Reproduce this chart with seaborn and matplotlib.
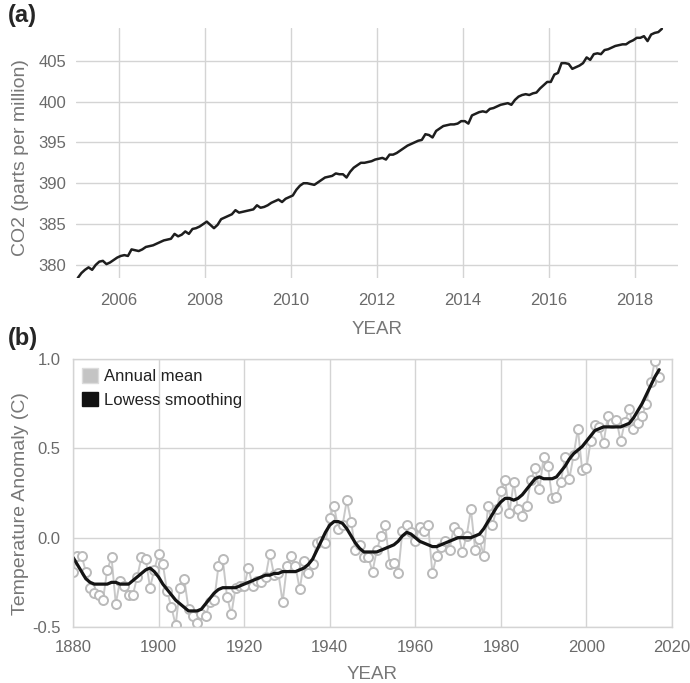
import matplotlib
matplotlib.use("Agg")
import matplotlib.pyplot as plt
from matplotlib.patches import Patch
import numpy as np
import pandas as pd
import seaborn as sns

# ---- Monthly CO2 (ppm), Jan 2005 .. Aug 2018 ----
co2_2005 = [378.4, 379.0, 379.4, 379.7, 379.4, 380.0, 380.4, 380.5, 380.1, 380.3, 380.6, 380.9]
co2_2006 = [381.1, 381.2, 381.1, 381.9, 381.8, 381.7, 381.9, 382.2, 382.3, 382.4, 382.6, 382.8]
co2_2007 = [383.0, 383.1, 383.2, 383.8, 383.5, 383.7, 384.1, 383.8, 384.4, 384.5, 384.7, 385.0]
co2_2008 = [385.3, 384.9, 384.5, 384.9, 385.6, 385.8, 386.0, 386.2, 386.7, 386.4, 386.5, 386.6]
co2_2009 = [386.7, 386.8, 387.3, 387.0, 387.1, 387.3, 387.6, 387.8, 388.0, 387.7, 388.1, 388.3]
co2_2010 = [388.5, 389.2, 389.7, 390.0, 390.0, 389.9, 389.8, 390.1, 390.4, 390.7, 390.8, 390.9]
co2_2011 = [391.2, 391.1, 391.1, 390.7, 391.4, 391.9, 392.2, 392.5, 392.5, 392.6, 392.7, 392.9]
co2_2012 = [393.0, 393.1, 392.9, 393.5, 393.5, 393.7, 394.0, 394.3, 394.6, 394.8, 395.0, 395.2]
co2_2013 = [395.3, 396.0, 395.9, 395.6, 396.4, 396.7, 397.0, 397.1, 397.2, 397.2, 397.3, 397.6]
co2_2014 = [397.6, 397.3, 398.3, 398.5, 398.7, 398.8, 398.7, 399.1, 399.2, 399.4, 399.6, 399.7]
co2_2015 = [399.8, 399.6, 400.2, 400.6, 400.8, 400.9, 400.8, 401.0, 401.1, 401.6, 402.0, 402.4]
co2_2016 = [402.4, 403.3, 403.5, 404.7, 404.7, 404.6, 404.0, 404.2, 404.4, 404.7, 405.4, 405.1]
co2_2017 = [405.8, 405.9, 405.8, 406.3, 406.4, 406.6, 406.8, 406.9, 407.0, 407.0, 407.3, 407.5]
co2_2018 = [407.8, 407.8, 408.0, 407.4, 408.2, 408.4, 408.5, 408.9]

co2_values = (co2_2005 + co2_2006 + co2_2007 + co2_2008 + co2_2009 + co2_2010 + co2_2011
              + co2_2012 + co2_2013 + co2_2014 + co2_2015 + co2_2016 + co2_2017 + co2_2018)
co2_start_year = 2005
co2_xticks = [2006, 2008, 2010, 2012, 2014, 2016, 2018]
co2_yticks = [380, 385, 390, 395, 400, 405]

# ---- Global temperature anomaly (C), 1880 .. 2017 ----
temp_years = list(range(1880, 2018))
annual_mean = [
    -0.19, -0.10, -0.10, -0.19, -0.28, -0.31, -0.32, -0.35, -0.18, -0.11,
    -0.37, -0.24, -0.27, -0.32, -0.32, -0.22, -0.11, -0.12, -0.28, -0.18,
    -0.09, -0.15, -0.30, -0.39, -0.49, -0.28, -0.23, -0.40, -0.44, -0.48,
    -0.43, -0.44, -0.36, -0.35, -0.16, -0.12, -0.33, -0.43, -0.28, -0.27,
    -0.27, -0.17, -0.27, -0.24, -0.25, -0.22, -0.09, -0.21, -0.20, -0.36,
    -0.16, -0.10, -0.16, -0.29, -0.13, -0.20, -0.15, -0.03, -0.02, -0.03,
    0.11, 0.18, 0.05, 0.07, 0.21, 0.09, -0.07, -0.04, -0.11, -0.11,
    -0.19, -0.07, 0.01, 0.07, -0.15, -0.14, -0.20, 0.04, 0.07, 0.03,
    -0.02, 0.06, 0.04, 0.07, -0.20, -0.10, -0.05, -0.02, -0.07, 0.06,
    0.03, -0.08, 0.01, 0.16, -0.07, -0.01, -0.10, 0.18, 0.07, 0.16,
    0.26, 0.32, 0.14, 0.31, 0.16, 0.12, 0.18, 0.32, 0.39, 0.27,
    0.45, 0.40, 0.22, 0.23, 0.31, 0.45, 0.33, 0.46, 0.61, 0.38,
    0.39, 0.54, 0.63, 0.62, 0.53, 0.68, 0.64, 0.66, 0.54, 0.65,
    0.72, 0.61, 0.64, 0.68, 0.75, 0.87, 0.99, 0.90,
]
lowess_5yr = [
    -0.11, -0.15, -0.19, -0.23, -0.25, -0.26, -0.26, -0.26, -0.26, -0.25,
    -0.25, -0.26, -0.26, -0.26, -0.24, -0.22, -0.20, -0.18, -0.17, -0.19,
    -0.22, -0.26, -0.29, -0.32, -0.35, -0.37, -0.39, -0.41, -0.41, -0.41,
    -0.40, -0.37, -0.34, -0.31, -0.29, -0.28, -0.28, -0.28, -0.28, -0.27,
    -0.26, -0.25, -0.24, -0.23, -0.22, -0.21, -0.21, -0.20, -0.20, -0.19,
    -0.19, -0.19, -0.19, -0.18, -0.17, -0.15, -0.12, -0.07, -0.02, 0.03,
    0.07, 0.09, 0.09, 0.08, 0.05, 0.01, -0.03, -0.06, -0.08, -0.08,
    -0.08, -0.08, -0.07, -0.06, -0.05, -0.04, -0.02, 0.01, 0.03, 0.02,
    0.00, -0.02, -0.03, -0.04, -0.05, -0.05, -0.04, -0.03, -0.02, -0.01,
    0.00, 0.00, 0.00, 0.00, 0.01, 0.02, 0.05, 0.09, 0.13, 0.17,
    0.20, 0.22, 0.22, 0.21, 0.22, 0.24, 0.27, 0.30, 0.33, 0.34,
    0.33, 0.33, 0.33, 0.34, 0.37, 0.40, 0.44, 0.47, 0.49, 0.51,
    0.54, 0.57, 0.60, 0.61, 0.62, 0.62, 0.62, 0.62, 0.62, 0.63,
    0.64, 0.67, 0.71, 0.75, 0.80, 0.85, 0.90, 0.94,
]
temp_xticks = [1880, 1900, 1920, 1940, 1960, 1980, 2000, 2020]
temp_yticks = [-0.5, 0.0, 0.5, 1.0]

# ---- tables ----
co2_df = pd.DataFrame({
    "year": [co2_start_year + (i + 0.5) / 12 for i in range(len(co2_values))],
    "co2": co2_values,
})
temp_df = pd.DataFrame({"year": temp_years, "annual": annual_mean, "lowess": lowess_5yr})

# ---- style ----
sns.set_style("white")
plt.rcParams["font.family"] = ["Liberation Sans", "DejaVu Sans"]
TICK_GRAY = "#6a6a6a"
LABEL_GRAY = "#777777"
GRID_GRAY = "#d4d4d4"

fig = plt.figure(figsize=(6.9, 6.83), dpi=100)

# ---------- (a) CO2 ----------
ax1 = fig.add_axes([76 / 690, 1 - 278 / 683, 602 / 690, 250 / 683])
sns.lineplot(data=co2_df, x="year", y="co2", ax=ax1, color="#1e1e1e", linewidth=1.8)
ax1.set_xlim(2005, 2019)
ax1.set_ylim(378.4, 409.0)
ax1.set_xticks(co2_xticks)
ax1.set_yticks(co2_yticks)
ax1.grid(True, color=GRID_GRAY, linewidth=1.0)
ax1.set_axisbelow(True)
for s in ax1.spines.values():
    s.set_visible(False)
ax1.tick_params(axis="both", length=0, labelsize=12, labelcolor=TICK_GRAY)
ax1.tick_params(axis="x", pad=11)
ax1.tick_params(axis="y", pad=7)
ax1.set_xlabel("YEAR", fontsize=13.5, color=LABEL_GRAY, labelpad=9)
ax1.set_ylabel("CO2 (parts per million)", fontsize=14, color=LABEL_GRAY)
ax1.yaxis.set_label_coords(-0.078, 0.48)

# ---------- (b) temperature ----------
ax2 = fig.add_axes([73 / 690, 1 - 627 / 683, 599 / 690, 268 / 683])
sns.lineplot(data=temp_df, x="year", y="annual", ax=ax2, color="#c8c8c8", linewidth=1.4,
             marker="o", markersize=6.5, markerfacecolor="white",
             markeredgecolor="#bababa", markeredgewidth=1.4)
sns.lineplot(data=temp_df, x="year", y="lowess", ax=ax2, color="#141414", linewidth=2.3)
ax2.set_xlim(1880, 2020)
ax2.set_ylim(-0.5, 1.0)
ax2.set_xticks(temp_xticks)
ax2.set_yticks(temp_yticks)
ax2.set_yticklabels([f"{v:.1f}" for v in temp_yticks])
ax2.grid(True, color=GRID_GRAY, linewidth=1.0)
ax2.set_axisbelow(True)
for s in ax2.spines.values():
    s.set_visible(True)
    s.set_color(GRID_GRAY)
    s.set_linewidth(1.0)
ax2.tick_params(axis="both", length=0, labelsize=12, labelcolor=TICK_GRAY)
ax2.tick_params(axis="x", pad=9)
ax2.tick_params(axis="y", pad=9)
ax2.set_xlabel("YEAR", fontsize=13.5, color=LABEL_GRAY, labelpad=8)
ax2.set_ylabel("Temperature Anomaly (C)", fontsize=14, color=LABEL_GRAY)
ax2.yaxis.set_label_coords(-0.073, 0.46)

handles = [
    Patch(facecolor="#c4c4c4", edgecolor="#dcdcdc", linewidth=1.0, label="Annual mean"),
    Patch(facecolor="#111111", edgecolor="#111111", label="Lowess smoothing"),
]
ax2.legend(handles=handles, loc="upper left", bbox_to_anchor=(0.0, 1.0), frameon=False,
           fontsize=12, handlelength=0.95, handleheight=0.95, handletextpad=0.35,
           labelspacing=0.45, borderaxespad=0.35, borderpad=0.2, labelcolor="#222222")

# ---------- panel tags ----------
fig.text(8 / 690, 1 - 4 / 683, "(a)", fontsize=17, fontweight="bold", va="top", ha="left")
fig.text(8 / 690, 1 - 327 / 683, "(b)", fontsize=17, fontweight="bold", va="top", ha="left")

fig.savefig("out.png", dpi=100)
